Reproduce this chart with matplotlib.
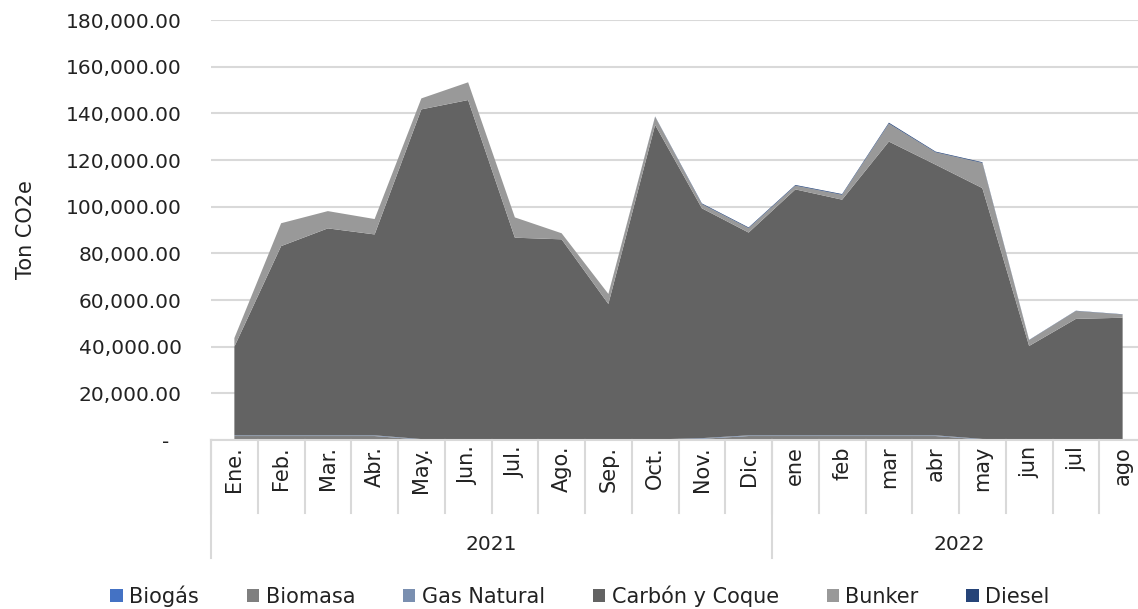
import matplotlib
matplotlib.use("Agg")
import matplotlib.pyplot as plt
from matplotlib.patches import Patch
from matplotlib.ticker import FuncFormatter
import numpy as np

plt.rcParams['font.family'] = ['DejaVu Sans']

months = ["Ene.", "Feb.", "Mar.", "Abr.", "May.", "Jun.", "Jul.", "Ago.", "Sep.", "Oct.",
          "Nov.", "Dic.", "ene", "feb", "mar", "abr", "may", "jun", "jul", "ago"]
years = ["2021", "2022"]
year_counts = [12, 8]

series_names = ["Biogás", "Biomasa", "Gas Natural", "Carbón y Coque", "Bunker", "Diesel"]
biogas = [0, 0, 0, 0, 0, 0, 0, 0, 0, 0, 0, 0, 0, 0, 0, 0, 0, 0, 0, 0]
biomasa = [1700, 1700, 1700, 1700, 150, 0, 0, 0, 0, 0, 500, 1700, 1700, 1700, 1700, 1700, 200, 0, 0, 0]
gas_natural = [300, 300, 300, 300, 250, 200, 200, 200, 200, 250, 300, 300, 300, 300, 300, 300, 250, 200, 200, 200]
carbon = [38000, 81100, 88700, 86100, 141300, 145500, 86500, 85800, 58100, 134800,
          98500, 86900, 105400, 101000, 125900, 116000, 107500, 40100, 51700, 52200]
bunker = [3700, 9800, 7400, 6600, 4700, 7600, 8700, 2600, 4300, 3500,
          1800, 1900, 1600, 2100, 7700, 5300, 10800, 2500, 3400, 1400]
diesel = [0, 0, 0, 0, 0, 0, 0, 0, 0, 100, 300, 300, 300, 300, 400, 300, 300, 100, 100, 100]

colors = ["#4472C4", "#7F7F7F", "#7A8FB0", "#636363", "#999999", "#264478"]

W, H = 1138, 609
fig = plt.figure(figsize=(W / 100, H / 100), dpi=100)
ax_left, ax_right = 211, 1146
ax_top, ax_bot = 20, 440
ax = fig.add_axes([ax_left / W, 1 - ax_bot / H, (ax_right - ax_left) / W, (ax_bot - ax_top) / H])

x = np.arange(len(months))
ax.stackplot(x, biogas, biomasa, gas_natural, carbon, bunker, diesel,
             colors=colors, linewidth=0, zorder=2)

ax.set_xlim(-0.5, len(months) - 0.5)
ax.set_ylim(0, 180000)
ax.set_yticks(np.arange(0, 180001, 20000))


def fmt(v, pos):
    if abs(v) < 1e-9:
        return "-  "
    return f"{v:,.2f}"


ax.yaxis.set_major_formatter(FuncFormatter(fmt))
ax.tick_params(axis='y', length=0, pad=21, labelsize=14.5, labelcolor="#222222")
ax.grid(axis='y', color="#D9D9D9", linewidth=1.5, zorder=0)
ax.set_axisbelow(True)
for s in ["top", "right", "left"]:
    ax.spines[s].set_visible(False)
ax.spines["bottom"].set_color("#D9D9D9")
ax.spines["bottom"].set_linewidth(1.5)
ax.spines["bottom"].set_zorder(3)
ax.set_xticks([])

ax.set_ylabel("Ton CO2e", fontsize=15, color="#222222")
ax.yaxis.set_label_coords(-(ax_left - 36) / (ax_right - ax_left), 0.5)

# multi-level category axis
trans = ax.get_xaxis_transform()
px = 1.0 / (ax_bot - ax_top)  # axes-fraction per pixel (vertical)
month_line_end = -(513 - ax_bot) * px
year_line_end = -(558 - ax_bot) * px
for i in range(len(months) + 1):
    ax.plot([i - 0.5, i - 0.5], [0, month_line_end], transform=trans, color="#D9D9D9",
            linewidth=1.5, clip_on=False)
for i, m in enumerate(months):
    ax.text(i, -(446 - ax_bot) * px, m, transform=trans, rotation=90, ha='center', va='top',
            fontsize=15, color="#222222")
start = 0
bounds = [0]
for yl, c in zip(years, year_counts):
    center = start + c / 2 - 0.5
    ax.text(center, -(545 - ax_bot) * px, yl, transform=trans, ha='center', va='center',
            fontsize=14.5, color="#222222")
    start += c
    bounds.append(start)
for b in bounds:
    ax.plot([b - 0.5, b - 0.5], [0, year_line_end], transform=trans, color="#D9D9D9",
            linewidth=1.5, clip_on=False)

handles = [Patch(facecolor=c, edgecolor='none') for c in colors]
fig.legend(handles, series_names, loc='center', bbox_to_anchor=(580 / W, 1 - 596 / H),
           ncol=6, frameon=False, fontsize=15, handlelength=0.6, handleheight=0.6,
           handletextpad=0.3, columnspacing=2.3, labelcolor="#222222")

fig.savefig("out.png", dpi=100)
